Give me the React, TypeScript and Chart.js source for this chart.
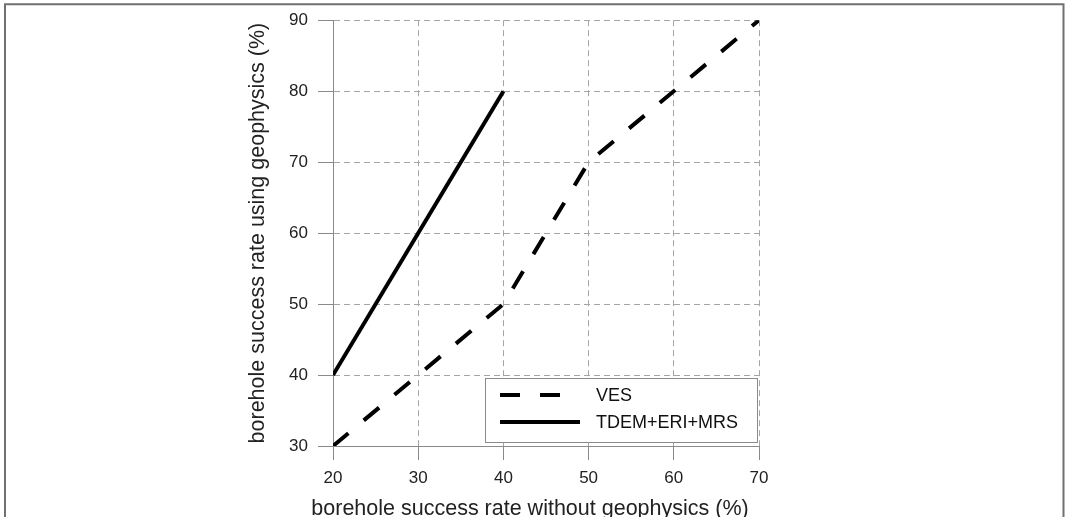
import React, { useEffect, useRef } from "react";
import { Chart, registerables } from "chart.js";

Chart.register(...registerables);

const vesX = [20, 40, 50, 70];
const vesY = [30, 50, 70, 90];
const tdemX = [20, 40];
const tdemY = [40, 80];
const xTicks = [20, 30, 40, 50, 60, 70];
const yTicks = [30, 40, 50, 60, 70, 80, 90];
const seriesLabels = ["VES", "TDEM+ERI+MRS"];
const xTitle = "borehole success rate without geophysics (%)";
const yTitle = "borehole success rate using geophysics (%)";

const FONT = "'Liberation Sans', Arial, sans-serif";

const framePlugin = {
  id: "frame",
  beforeDraw(chart: any) {
    const ctx = chart.ctx;
    ctx.save();
    ctx.fillStyle = "#ffffff";
    ctx.fillRect(0, 0, chart.width, chart.height);
    ctx.strokeStyle = "#707070";
    ctx.lineWidth = 2;
    ctx.beginPath();
    ctx.moveTo(5, chart.height + 10);
    ctx.lineTo(5, 4.3);
    ctx.lineTo(1063.5, 4.3);
    ctx.lineTo(1063.5, chart.height + 10);
    ctx.stroke();
    ctx.restore();
  },
};

const xTitlePlugin = {
  id: "xTitle",
  afterDraw(chart: any) {
    const ctx = chart.ctx;
    const area = chart.chartArea;
    ctx.save();
    ctx.fillStyle = "#222222";
    ctx.font = `21.5px ${FONT}`;
    ctx.textAlign = "center";
    ctx.textBaseline = "middle";
    ctx.fillText(xTitle, area.left + (area.right - area.left) / 2 - 16, 509);
    ctx.restore();
  },
};

const legendPlugin = {
  id: "boxLegend",
  afterDatasetsDraw(chart: any) {
    const ctx = chart.ctx;
    const area = chart.chartArea;
    const w = 272;
    const h = 64;
    const bx = area.right - 2 - w;
    const by = area.bottom - 4 - h;
    ctx.save();
    ctx.fillStyle = "#ffffff";
    ctx.fillRect(bx, by, w, h);
    ctx.strokeStyle = "#8a8a8a";
    ctx.lineWidth = 1;
    ctx.strokeRect(bx + 0.5, by + 0.5, w, h);
    chart.data.datasets.forEach((ds: any, i: number) => {
      const y = by + 17 + i * 27;
      ctx.save();
      ctx.strokeStyle = ds.borderColor;
      ctx.lineWidth = ds.borderWidth;
      ctx.setLineDash(ds.borderDash || []);
      ctx.beginPath();
      ctx.moveTo(bx + 15, y);
      ctx.lineTo(bx + 95, y);
      ctx.stroke();
      ctx.restore();
      ctx.fillStyle = "#111111";
      ctx.font = `18px ${FONT}`;
      ctx.textBaseline = "middle";
      ctx.textAlign = "left";
      ctx.fillText(ds.label, bx + 111, y + 1);
    });
    ctx.restore();
  },
};

export default function App() {
  const ref = useRef<HTMLCanvasElement | null>(null);

  useEffect(() => {
    const canvas = ref.current;
    if (!canvas) return;
    const chart = new Chart(canvas, {
      type: "line",
      data: {
        datasets: [
          {
            label: seriesLabels[0],
            data: vesX.map((x, i) => ({ x, y: vesY[i] })),
            borderColor: "#000000",
            borderWidth: 4,
            borderDash: [20, 20],
            pointRadius: 0,
            fill: false,
            tension: 0,
          },
          {
            label: seriesLabels[1],
            data: tdemX.map((x, i) => ({ x, y: tdemY[i] })),
            borderColor: "#000000",
            borderWidth: 4,
            pointRadius: 0,
            fill: false,
            tension: 0,
          },
        ],
      },
      options: {
        animation: false,
        responsive: false,
        devicePixelRatio: 1,
        layout: { padding: { left: 247, top: 18, right: 306, bottom: 0 } },
        plugins: {
          legend: { display: false },
          tooltip: { enabled: false },
        },
        scales: {
          x: {
            type: "linear",
            min: xTicks[0],
            max: xTicks[xTicks.length - 1],
            afterBuildTicks: (s: any) => {
              s.ticks = xTicks.map((v) => ({ value: v }));
            },
            afterFit: (s: any) => {
              s.height = 517 - 446;
            },
            grid: {
              color: "#a5a5a5",
              lineWidth: 1,
              tickColor: "#8a8a8a",
              tickLength: 14,
              drawTicks: true,
            },
            border: { display: true, color: "#8a8a8a", width: 1, dash: [6, 4] },
            ticks: {
              color: "#222222",
              font: { family: FONT, size: 17 },
              padding: 8,
              maxRotation: 0,
            },
            title: { display: false },
          },
          y: {
            type: "linear",
            min: yTicks[0],
            max: yTicks[yTicks.length - 1],
            afterBuildTicks: (s: any) => {
              s.ticks = yTicks.map((v) => ({ value: v }));
            },
            afterFit: (s: any) => {
              s.width = 333 - 247;
            },
            grid: {
              color: "#a5a5a5",
              lineWidth: 1,
              tickColor: "#8a8a8a",
              tickLength: 15,
              drawTicks: true,
            },
            border: { display: true, color: "#8a8a8a", width: 1, dash: [6, 4] },
            ticks: {
              color: "#222222",
              font: { family: FONT, size: 17 },
              padding: 10,
            },
            title: {
              display: true,
              text: yTitle,
              color: "#222222",
              font: { family: FONT, size: 21.5, lineHeight: 1 },
              padding: { top: 0, bottom: 0 },
            },
          },
        },
      },
      plugins: [framePlugin, legendPlugin, xTitlePlugin],
    });
    return () => chart.destroy();
  }, []);

  return (
    <div style={{ position: "fixed", left: 0, top: 0, width: 1065, height: 517 }}>
      <canvas ref={ref} width={1065} height={517} style={{ display: "block" }} />
    </div>
  );
}
